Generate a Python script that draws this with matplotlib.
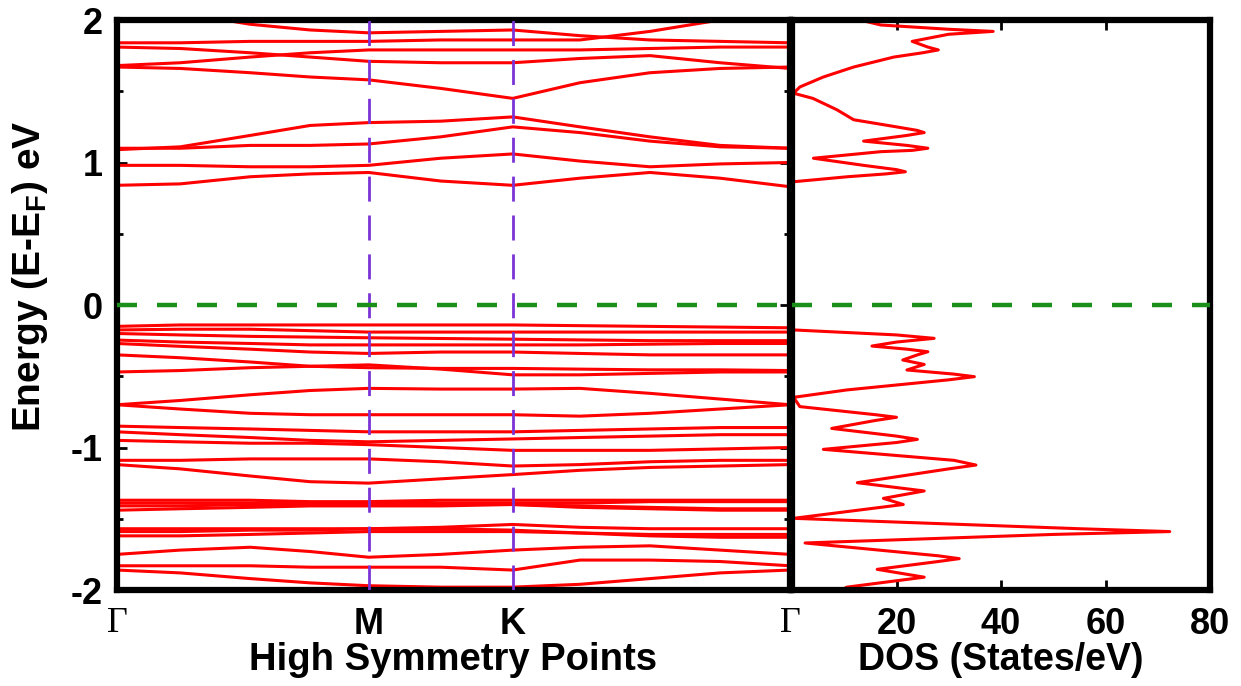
import numpy as np
import matplotlib
matplotlib.use("Agg")
import matplotlib.pyplot as plt

plt.rcParams['font.family'] = ['Liberation Sans', 'DejaVu Sans']
plt.rcParams['font.weight'] = 'bold'
plt.rcParams['axes.labelweight'] = 'bold'
plt.rcParams['axes.unicode_minus'] = False
plt.rcParams['mathtext.fontset'] = 'custom'
plt.rcParams['mathtext.rm'] = 'Liberation Sans:bold'
plt.rcParams['mathtext.bf'] = 'Liberation Sans:bold'

# k-path positions (Gamma - M - K - Gamma), normalised
k_path = [0.0, 0.094, 0.198, 0.287, 0.374, 0.481, 0.588, 0.688, 0.792, 0.896, 1.0]
k_ticks = [0.0, 0.374, 0.588, 1.0]
k_labels = ['Γ', 'M', 'K', 'Γ']

# conduction bands (eV)
cond_bands = [
    [0.84, 0.85, 0.90, 0.92, 0.93, 0.87, 0.84, 0.89, 0.93, 0.89, 0.83],
    [0.98, 0.98, 0.97, 0.97, 0.98, 1.03, 1.06, 1.01, 0.97, 0.99, 1.00],
    [1.10, 1.10, 1.12, 1.12, 1.13, 1.18, 1.25, 1.21, 1.15, 1.11, 1.10],
    [1.09, 1.11, 1.19, 1.26, 1.28, 1.29, 1.32, 1.25, 1.18, 1.12, 1.10],
    [1.67, 1.66, 1.63, 1.60, 1.58, 1.52, 1.45, 1.56, 1.63, 1.66, 1.67],
    [1.68, 1.70, 1.74, 1.77, 1.79, 1.79, 1.79, 1.79, 1.80, 1.81, 1.81],
    [1.81, 1.80, 1.77, 1.74, 1.71, 1.70, 1.70, 1.73, 1.75, 1.70, 1.66],
    [1.84, 1.84, 1.85, 1.85, 1.85, 1.86, 1.86, 1.86, 1.92, 2.00, 2.10],
    [2.12, 2.05, 1.97, 1.93, 1.91, 1.92, 1.93, 1.89, 1.86, 1.85, 1.84],
]

# valence bands (eV)
val_bands = [
    [-0.15, -0.14, -0.14, -0.14, -0.14, -0.14, -0.14, -0.145, -0.15, -0.155, -0.16],
    [-0.175, -0.17, -0.17, -0.18, -0.19, -0.19, -0.19, -0.19, -0.19, -0.19, -0.19],
    [-0.20, -0.21, -0.22, -0.225, -0.23, -0.235, -0.24, -0.245, -0.25, -0.25, -0.25],
    [-0.246, -0.26, -0.27, -0.28, -0.28, -0.28, -0.28, -0.28, -0.275, -0.27, -0.27],
    [-0.27, -0.29, -0.31, -0.33, -0.34, -0.33, -0.33, -0.34, -0.35, -0.35, -0.35],
    [-0.35, -0.37, -0.40, -0.43, -0.44, -0.445, -0.445, -0.45, -0.455, -0.455, -0.46],
    [-0.47, -0.46, -0.44, -0.43, -0.42, -0.45, -0.49, -0.49, -0.48, -0.47, -0.47],
    [-0.70, -0.67, -0.63, -0.60, -0.585, -0.59, -0.59, -0.585, -0.62, -0.66, -0.70],
    [-0.70, -0.73, -0.76, -0.77, -0.77, -0.77, -0.77, -0.78, -0.76, -0.73, -0.70],
    [-0.85, -0.86, -0.87, -0.88, -0.89, -0.89, -0.89, -0.88, -0.87, -0.86, -0.86],
    [-0.89, -0.91, -0.93, -0.95, -0.96, -0.95, -0.94, -0.93, -0.92, -0.91, -0.91],
    [-0.95, -0.96, -0.97, -0.97, -0.98, -1.00, -1.02, -1.02, -1.02, -1.01, -1.00],
    [-1.09, -1.09, -1.08, -1.08, -1.08, -1.10, -1.13, -1.12, -1.10, -1.09, -1.09],
    [-1.12, -1.15, -1.20, -1.24, -1.25, -1.22, -1.19, -1.16, -1.14, -1.13, -1.12],
    [-1.37, -1.37, -1.37, -1.38, -1.38, -1.37, -1.37, -1.37, -1.37, -1.37, -1.37],
    [-1.39, -1.39, -1.39, -1.39, -1.39, -1.39, -1.39, -1.39, -1.38, -1.38, -1.38],
    [-1.41, -1.41, -1.40, -1.40, -1.40, -1.40, -1.40, -1.41, -1.42, -1.43, -1.43],
    [-1.44, -1.43, -1.42, -1.41, -1.41, -1.41, -1.40, -1.42, -1.43, -1.44, -1.44],
    [-1.57, -1.57, -1.57, -1.57, -1.57, -1.56, -1.54, -1.56, -1.57, -1.57, -1.57],
    [-1.59, -1.59, -1.58, -1.58, -1.57, -1.57, -1.58, -1.60, -1.61, -1.61, -1.61],
    [-1.62, -1.62, -1.61, -1.60, -1.59, -1.59, -1.59, -1.60, -1.62, -1.63, -1.63],
    [-1.75, -1.72, -1.70, -1.73, -1.77, -1.75, -1.72, -1.70, -1.69, -1.72, -1.75],
    [-1.83, -1.83, -1.83, -1.84, -1.84, -1.84, -1.86, -1.79, -1.79, -1.80, -1.83],
    [-1.86, -1.88, -1.92, -1.95, -1.97, -1.98, -1.98, -1.96, -1.92, -1.88, -1.86],
]

# density of states (States/eV) against energy (eV)
dos_energy = [2.05, 2.0, 1.965, 1.935, 1.92, 1.90, 1.85, 1.81, 1.79, 1.77, 1.74, 1.67,
              1.60, 1.53, 1.486, 1.45, 1.37, 1.30, 1.25, 1.225, 1.21, 1.19, 1.15, 1.12,
              1.10, 1.085, 1.076, 1.03, 0.98, 0.95, 0.935, 0.92, 0.90, 0.865,
              0.85, -0.16, -0.175, -0.21, -0.234, -0.26, -0.288, -0.31, -0.328, -0.35,
              -0.386, -0.417, -0.456, -0.485, -0.503, -0.525,
              -0.596, -0.648, -0.713, -0.77, -0.788, -0.81, -0.866, -0.92, -0.943, -0.965,
              -1.013, -1.09, -1.123, -1.15, -1.247,
              -1.305, -1.357, -1.40, -1.497, -1.57, -1.59, -1.61, -1.67, -1.76, -1.78, -1.80,
              -1.855, -1.91, -1.98, -2.05]
dos_states = [10, 13, 17, 30, 38.5, 30, 23, 26, 28, 25, 19.5, 11.8,
              6, 1.5, 0.3, 4, 8.6, 11.8, 20, 24, 25.3, 22, 13.7, 22,
              26, 23, 17, 4.1, 13.7, 20, 21.7, 18, 10.6, 0.3,
              0, 0, 0.3, 20, 27.2, 20, 15.3, 22, 26, 24,
              21.2, 25.3, 22, 31, 34.9, 30,
              10.5, 0.3, 1.5, 16, 20, 16, 7.6, 20, 24, 20,
              6, 31, 35.2, 30, 12.5,
              25.3, 17.5, 21.3, 0.3, 55, 72.3, 50, 2.5, 28, 32, 28,
              16.3, 25.3, 10.5, 7]

fig = plt.figure(figsize=(12.41, 6.86), dpi=100)
ax1 = fig.add_axes([117 / 1241, 96 / 686, 673 / 1241, 570 / 686])
ax2 = fig.add_axes([792 / 1241, 96 / 686, 418 / 1241, 570 / 686])

red = '#ff0000'
for band in cond_bands + val_bands:
    ax1.plot(k_path, band, color=red, lw=2.2, zorder=2, solid_joinstyle='round')

for kx in k_ticks[1:3]:
    ax1.axvline(kx, color='#7a33d6', lw=2.0, ls=(0, (9, 5)), zorder=3)
ax1.axhline(0, color='#1a8f1a', lw=3.2, ls=(0, (4.5, 4.5)), zorder=3)

ax1.set_xlim(0, 1)
ax1.set_ylim(-2, 2)
ax1.set_xticks(k_ticks)
ax1.set_xticklabels(k_labels)
for lab in ax1.get_xticklabels()[::3]:
    lab.set_fontfamily('Liberation Serif')
    lab.set_fontweight('normal')
    lab.set_fontsize(28)
ax1.tick_params(axis='x', length=0, pad=12, labelsize=26)
ax1.set_yticks([-2, -1, 0, 1, 2])
ax1.set_yticks([-1.5, -0.5, 0.5, 1.5], minor=True)
ax1.tick_params(axis='y', which='both', direction='in', right=True, labelsize=26, pad=10)
ax1.tick_params(axis='y', which='major', length=7, width=2)
ax1.tick_params(axis='y', which='minor', length=4, width=2)
ax1.set_xlabel('High Symmetry Points', fontsize=27.5, labelpad=0)
ax1.set_ylabel(r'Energy (E-E$_\mathrm{F}$) eV', fontsize=28)
ax1.yaxis.set_label_coords(-0.10, 0.55)

ax2.plot(dos_states, dos_energy, color=red, lw=2.2, zorder=2, solid_joinstyle='round')
ax2.axhline(0, color='#1a8f1a', lw=3.2, ls=(0, (4.5, 4.5)), zorder=3)
ax2.set_xlim(0, 80)
ax2.set_ylim(-2, 2)
ax2.set_xticks([0, 20, 40, 60, 80])
ax2.set_xticklabels(['', '20', '40', '60', '80'])
ax2.set_yticks([])
ax2.tick_params(axis='x', direction='in', top=True, length=7, width=2, labelsize=26, pad=12)
ax2.set_xlabel('DOS (States/eV)', fontsize=27, labelpad=0)

for ax in (ax1, ax2):
    for sp in ax.spines.values():
        sp.set_linewidth(4.5)
        sp.set_color('black')

fig.savefig('out.png', dpi=100)
